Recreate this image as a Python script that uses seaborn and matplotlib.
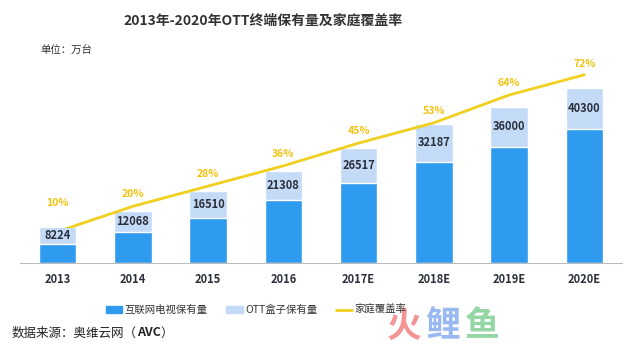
import matplotlib.pyplot as plt
import numpy as np
import seaborn as sns
from matplotlib.patches import Patch
from matplotlib.lines import Line2D

sns.set_style("white")
plt.rcParams['font.family'] = ['Noto Sans CJK SC', 'DejaVu Sans']

years = ['2013', '2014', '2015', '2016', '2017E', '2018E', '2019E', '2020E']
ott_total = [8224, 12068, 16510, 21308, 26517, 32187, 36000, 40300]
smart_tv = [4460, 7150, 10390, 14470, 18460, 23380, 26850, 30930]
coverage = [10, 20, 28, 36, 45, 53, 64, 72]
cov_offsets = [17, 5, 5, 5, 5, 5, 5, 4]

c_dark = '#2f9bef'
c_light = '#c4dbf8'
c_line = '#f0cf1e'
c_pct = '#f4c20d'
c_text = '#2a2f3a'

fig = plt.figure(figsize=(6.4, 3.5), dpi=100)
ax = fig.add_axes([20 / 640, 87 / 350, 602 / 640, 208 / 350])

sns.barplot(x=years, y=ott_total, color=c_light, width=0.5, ax=ax,
            saturation=1)
sns.barplot(x=years, y=smart_tv, color=c_dark, width=0.5, ax=ax,
            saturation=1)
ax.set_xlim(-0.5, 7.5)
ax.set_ylim(0, 48000)
ax.set_yticks([])
ax.set_ylabel('')
for s in ['top', 'right', 'left']:
    ax.spines[s].set_visible(False)
ax.spines['bottom'].set_color('#bbbbbb')
ax.tick_params(axis='x', length=0, pad=7, labelsize=8, labelcolor=c_text)
for lab in ax.get_xticklabels():
    lab.set_fontweight('bold')

ax2 = ax.twinx()
xs = np.arange(len(years))
sns.lineplot(x=xs, y=coverage, color=c_line, linewidth=2, ax=ax2, zorder=2)
ax2.set_ylim(-2.4, -2.4 + 208 / 2.53)
ax2.set_yticks([])
ax2.set_ylabel('')
for s in ['top', 'right', 'left', 'bottom']:
    ax2.spines[s].set_visible(False)
for i, (p, off) in enumerate(zip(coverage, cov_offsets)):
    ax2.annotate(f'{p}%', (i, p), xytext=(0, off), textcoords='offset points',
                 ha='center', va='bottom', fontsize=7.5, fontweight='bold',
                 color=c_pct)

# bar value labels sit above the line
for i, (tot, tv) in enumerate(zip(ott_total, smart_tv)):
    ax2.text(i, (tot + tv) / 2, str(tot), transform=ax.transData,
             ha='center', va='center', fontsize=8, fontweight='bold',
             color=c_text, zorder=5,
             bbox=dict(facecolor=c_light, edgecolor='none', pad=0.5))

fig.text(263 / 640, 1 - 21 / 350, '2013年-2020年OTT终端保有量及家庭覆盖率',
         ha='center', va='center', fontsize=10, fontweight='bold',
         color='#333333')
fig.text(40 / 640, 1 - 50 / 350, '单位：万台', ha='left', va='center',
         fontsize=7.5, color='#333333')

# watermark
for ch, xpos, col in [('火', 387, '#f38a8a'), ('鲤', 425, '#8fb2ef'),
                      ('鱼', 465, '#8ad39a')]:
    fig.text(xpos / 640, 1 - 326 / 350, ch, ha='left', va='center',
             fontsize=25, fontweight='bold', color=col, alpha=0.9, zorder=0)

handles = [Patch(color=c_dark), Patch(color=c_light),
           Line2D([0], [0], color=c_line, linewidth=2)]
labels = ['互联网电视保有量', 'OTT盒子保有量', '家庭覆盖率']
fig.legend(handles, labels, loc='center', bbox_to_anchor=(256 / 640, 1 - 310 / 350),
           ncol=3, frameon=False, fontsize=7.5, handlelength=1.6,
           handleheight=0.6, handletextpad=0.2, columnspacing=1.8,
           labelcolor='#333333')

# source line: plain text with a bold AVC
renderer = fig.canvas.get_renderer()
x0 = 12 / 640
y0 = 1 - 333 / 350
for part, wt in [('数据来源：奥维云网（', 'normal'), ('AVC', 'bold'), ('）', 'normal')]:
    t = fig.text(x0, y0, part, ha='left', va='center', fontsize=9,
                 fontweight=wt, color='#222222')
    bb = t.get_window_extent(renderer)
    x0 = bb.x1 / fig.bbox.width

fig.savefig('out.png', dpi=100)
